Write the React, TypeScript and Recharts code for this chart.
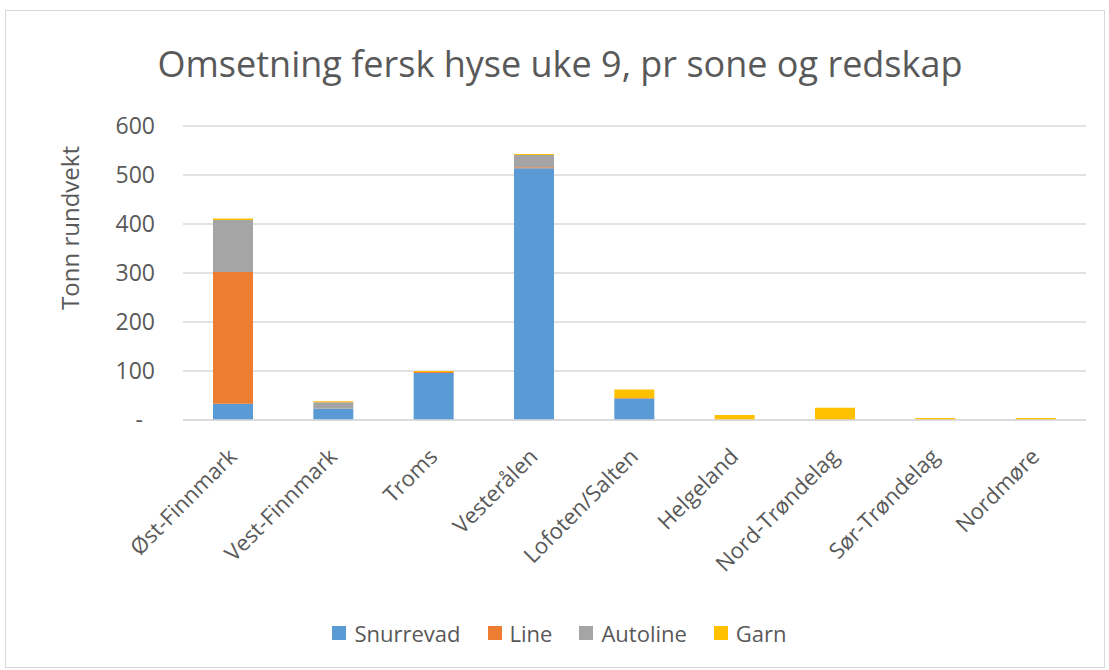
import React from 'react';
import { BarChart, Bar, XAxis, YAxis, CartesianGrid, Legend } from 'recharts';

const soner = [
  'Øst-Finnmark',
  'Vest-Finnmark',
  'Troms',
  'Vesterålen',
  'Lofoten/Salten',
  'Helgeland',
  'Nord-Trøndelag',
  'Sør-Trøndelag',
  'Nordmøre',
];

const snurrevad = [33, 23, 96, 514, 44, 0, 0, 0, 0];
const line = [269, 0, 2, 2, 1, 0, 0, 0, 0];
const autoline = [106, 13, 0, 25, 0, 0, 0, 0, 0];
const garn = [3, 2.5, 2, 2, 17, 10, 25, 4, 4];

const yTicks = [0, 100, 200, 300, 400, 500, 600];

const series = [
  { key: 'Snurrevad', color: '#5B9BD5' },
  { key: 'Line', color: '#ED7D31' },
  { key: 'Autoline', color: '#A5A5A5' },
  { key: 'Garn', color: '#FFC000' },
];

const data = soner.map((sone, i) => ({
  sone,
  Snurrevad: snurrevad[i],
  Line: line[i],
  Autoline: autoline[i],
  Garn: garn[i],
}));

const textColor = '#595959';
const font = '"Open Sans", sans-serif';

const XTick = (props: any) => {
  const { x, y, payload } = props;
  const px = x + 5;
  const py = y + 36;
  return (
    <text
      x={px}
      y={py}
      textAnchor="end"
      fill={textColor}
      fontSize={22}
      fontFamily={font}
      transform={`rotate(-45, ${px}, ${py})`}
    >
      {payload.value}
    </text>
  );
};

const YTick = (props: any) => {
  const { x, y, payload } = props;
  const zero = payload.value === 0;
  return (
    <text
      x={zero ? x - 12 : x}
      y={y}
      dy={8}
      textAnchor="end"
      fill={textColor}
      fontSize={23}
      fontFamily={font}
    >
      {zero ? '-' : payload.value}
    </text>
  );
};

const LegendContent = () => (
  <div
    style={{
      display: 'flex',
      justifyContent: 'center',
      alignItems: 'center',
      fontFamily: font,
      fontSize: 22,
      color: textColor,
      height: 40,
      paddingLeft: 54,
    }}
  >
    {series.map((s) => (
      <div key={s.key} style={{ display: 'flex', alignItems: 'center', marginRight: 27 }}>
        <span style={{ width: 14, height: 14, background: s.color, marginRight: 8, display: 'inline-block' }} />
        <span>{s.key}</span>
      </div>
    ))}
  </div>
);

export default function App() {
  return (
    <div
      style={{
        position: 'absolute',
        left: 5,
        top: 10,
        width: 1098,
        height: 656,
        border: '1px solid #D9D9D9',
        background: '#fff',
      }}
    >
      <div
        style={{
          position: 'absolute',
          left: 0,
          right: 0,
          top: 28,
          textAlign: 'center',
          fontFamily: font,
          fontSize: 36,
          color: textColor,
          lineHeight: '50px',
          paddingLeft: 10,
        }}
      >
        Omsetning fersk hyse uke 9, pr sone og redskap
      </div>
      <BarChart
        width={1098}
        height={656}
        data={data}
        margin={{ top: 115, right: 18, left: 0, bottom: 14 }}
        barSize={40}
      >
        <CartesianGrid vertical={false} stroke="#D9D9D9" strokeWidth={1.5} />
        <XAxis
          dataKey="sone"
          interval={0}
          height={193}
          tickLine={false}
          axisLine={{ stroke: '#D9D9D9', strokeWidth: 1.5 }}
          tickSize={0}
          tick={<XTick />}
        />
        <YAxis
          width={177}
          domain={[0, 600]}
          ticks={yTicks}
          axisLine={false}
          tickLine={false}
          tickSize={0}
          tickMargin={28}
          tick={<YTick />}
          label={{
            content: (p: any) => {
              const vb = p.viewBox;
              const cx = vb.x + 63;
              const cy = vb.y + vb.height / 2 - 45;
              return (
                <text
                  x={cx}
                  y={cy}
                  textAnchor="middle"
                  dominantBaseline="central"
                  fill={textColor}
                  fontSize={24}
                  fontFamily={font}
                  transform={`rotate(-90, ${cx}, ${cy})`}
                >
                  Tonn rundvekt
                </text>
              );
            },
          }}
        />
        <Legend verticalAlign="bottom" height={40} content={<LegendContent />} />
        {series.map((s) => (
          <Bar key={s.key} dataKey={s.key} stackId="a" fill={s.color} isAnimationActive={false} />
        ))}
      </BarChart>
    </div>
  );
}
